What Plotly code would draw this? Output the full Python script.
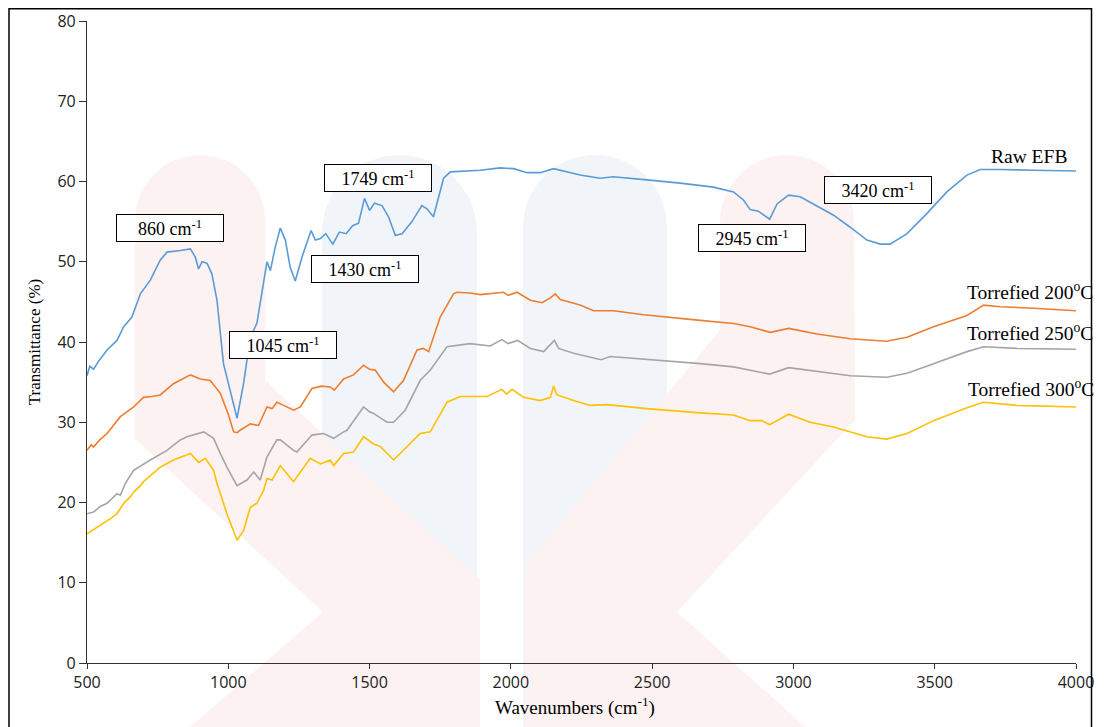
import numpy as np
import plotly.graph_objects as go

# ---------------- data ----------------
raw_wn = [500, 510, 523, 545, 571, 606, 630, 659, 689, 724, 759, 783, 830, 866, 883, 895, 907, 925, 942, 960,
          983, 1007, 1031, 1054, 1078, 1101, 1119, 1137, 1149, 1166, 1184, 1202, 1219, 1237, 1261, 1293, 1308,
          1326, 1345, 1370, 1393, 1417, 1440, 1461, 1482, 1500, 1517, 1544, 1567, 1591, 1615, 1650, 1685, 1703,
          1726, 1744, 1762, 1786, 1892, 1962, 2010, 2057, 2104, 2151, 2198, 2245, 2316, 2363, 2481, 2599, 2717,
          2788, 2823, 2847, 2876, 2916, 2942, 2983, 3024, 3083, 3142, 3201, 3260, 3307, 3342, 3402, 3472, 3543,
          3614, 3661, 3732, 3850, 4000]
raw_t = [35.8, 37.0, 36.6, 37.8, 39.0, 40.2, 41.9, 43.1, 46.0, 47.7, 50.2, 51.2, 51.4, 51.6, 50.6, 49.1, 50.0,
         49.8, 48.5, 45.2, 37.3, 34.0, 30.5, 34.8, 40.6, 42.3, 46.0, 50.0, 48.9, 51.8, 54.2, 52.7, 49.3, 47.6,
         50.6, 53.9, 52.7, 52.9, 53.5, 52.2, 53.7, 53.5, 54.5, 54.8, 57.9, 56.4, 57.3, 57.0, 55.6, 53.3, 53.5,
         55.0, 57.0, 56.6, 55.6, 58.0, 60.4, 61.2, 61.4, 61.7, 61.6, 61.1, 61.1, 61.6, 61.2, 60.8, 60.4, 60.6,
         60.2, 59.8, 59.3, 58.7, 57.7, 56.5, 56.3, 55.3, 57.2, 58.3, 58.1, 57.0, 55.8, 54.3, 52.7, 52.2, 52.2,
         53.5, 56.0, 58.7, 60.8, 61.5, 61.5, 61.4, 61.3]

t200_wn = [500, 515, 523, 545, 571, 618, 665, 700, 730, 759, 806, 866, 901, 936, 972, 1000, 1019, 1031, 1042,
           1078, 1107, 1137, 1155, 1172, 1196, 1231, 1255, 1296, 1330, 1361, 1375, 1408, 1443, 1479, 1500, 1520,
           1550, 1585, 1620, 1668, 1690, 1709, 1750, 1797, 1809, 1856, 1892, 1974, 1990, 2022, 2069, 2110, 2140,
           2157, 2175, 2245, 2293, 2363, 2470, 2599, 2670, 2788, 2847, 2918, 2983, 3083, 3201, 3330, 3402, 3496,
           3614, 3673, 3732, 3850, 4000]
t200_t = [26.5, 27.2, 26.9, 27.8, 28.6, 30.7, 31.9, 33.1, 33.2, 33.4, 34.8, 35.9, 35.4, 35.2, 33.6, 31.0, 28.8,
          28.7, 29.0, 29.8, 29.6, 31.9, 31.7, 32.5, 32.1, 31.5, 31.9, 34.2, 34.5, 34.4, 34.0, 35.4, 35.9, 37.1,
          36.6, 36.5, 35.0, 33.8, 35.2, 39.0, 39.2, 38.8, 43.1, 46.0, 46.2, 46.1, 45.9, 46.2, 45.8, 46.2, 45.2,
          44.9, 45.5, 46.0, 45.3, 44.6, 43.9, 43.9, 43.4, 42.9, 42.7, 42.3, 41.9, 41.2, 41.7, 41.0, 40.4, 40.1,
          40.6, 41.9, 43.3, 44.6, 44.4, 44.2, 43.9]

t250_wn = [500, 523, 547, 571, 606, 618, 636, 665, 724, 783, 830, 854, 913, 948, 972, 995, 1031, 1066, 1090, 1113,
           1137, 1172, 1184, 1231, 1243, 1296, 1337, 1361, 1373, 1408, 1420, 1479, 1500, 1514, 1562, 1585, 1626,
           1679, 1715, 1774, 1809, 1856, 1927, 1968, 1990, 2024, 2069, 2116, 2154, 2169, 2222, 2281, 2319, 2352,
           2470, 2599, 2670, 2788, 2847, 2916, 2983, 3083, 3201, 3330, 3402, 3496, 3614, 3673, 3791, 4000]
t250_t = [18.6, 18.8, 19.5, 19.9, 21.1, 20.9, 22.4, 24.0, 25.3, 26.5, 27.8, 28.2, 28.8, 28.0, 26.1, 24.4, 22.1,
          22.8, 23.8, 22.8, 25.7, 27.8, 27.8, 26.5, 26.3, 28.4, 28.6, 28.2, 28.0, 28.8, 29.0, 31.9, 31.3, 31.1,
          30.0, 30.0, 31.5, 35.2, 36.5, 39.4, 39.6, 39.8, 39.5, 40.3, 39.8, 40.2, 39.2, 38.8, 40.2, 39.2, 38.6,
          38.1, 37.8, 38.2, 37.9, 37.5, 37.3, 36.9, 36.5, 36.0, 36.8, 36.3, 35.8, 35.6, 36.1, 37.3, 38.8, 39.4,
          39.2, 39.1]

t300_wn = [500, 523, 547, 583, 606, 630, 653, 665, 689, 700, 759, 806, 866, 895, 919, 948, 960, 995, 1031, 1054,
           1078, 1101, 1125, 1137, 1155, 1184, 1231, 1290, 1326, 1361, 1373, 1408, 1443, 1479, 1514, 1538, 1585,
           1632, 1679, 1715, 1774, 1821, 1915, 1968, 1985, 2004, 2045, 2104, 2140, 2151, 2163, 2222, 2281, 2340,
           2481, 2658, 2788, 2847, 2888, 2916, 2983, 3059, 3142, 3260, 3330, 3402, 3496, 3614, 3673, 3791, 4000]
t300_t = [16.1, 16.6, 17.2, 18.0, 18.6, 19.9, 20.7, 21.3, 22.1, 22.6, 24.4, 25.3, 26.1, 25.0, 25.5, 24.0, 22.4,
          18.6, 15.3, 16.5, 19.4, 19.9, 21.5, 23.0, 22.8, 24.6, 22.6, 25.5, 24.8, 25.3, 24.6, 26.1, 26.3, 28.2,
          27.3, 27.0, 25.3, 26.9, 28.6, 28.8, 32.5, 33.2, 33.2, 34.1, 33.5, 34.1, 33.1, 32.7, 33.1, 34.5, 33.4,
          32.7, 32.1, 32.2, 31.7, 31.2, 30.9, 30.2, 30.2, 29.7, 31.0, 30.0, 29.4, 28.2, 27.9, 28.6, 30.2, 31.8,
          32.5, 32.1, 31.9]

series_names = ["Raw EFB", "Torrefied 200<sup>o</sup>C", "Torrefied 250<sup>o</sup>C", "Torrefied 300<sup>o</sup>C"]
series_colors = ["#5B9BD5", "#ED7D31", "#A5A5A5", "#FFC000"]
series_label_pos = [(3834, 63.1), (3838, 46.3), (3838, 41.3), (3842, 34.3)]

peak_labels = ["860 cm<sup>-1</sup>", "1749 cm<sup>-1</sup>", "1430 cm<sup>-1</sup>", "1045 cm<sup>-1</sup>",
               "2945 cm<sup>-1</sup>", "3420 cm<sup>-1</sup>"]
peak_label_pos = [(795, 54.2), (1531, 60.4), (1483, 49.1), (1195, 39.6), (2853, 53.0), (3300, 58.9)]

x_ticks = [500, 1000, 1500, 2000, 2500, 3000, 3500, 4000]
y_ticks = [0, 10, 20, 30, 40, 50, 60, 70, 80]

# ---------------- figure ----------------
W, H = 1107, 727
OFF = 8  # page body margin
ML, MR, MT, MB = 79, 39, 13, 72
PW, PH = W - ML - MR, H - MT - MB

def pp(x, y):
    """screen pixel -> paper coords (decoration only)"""
    return (x - OFF - ML) / PW, (H - MB - (y - OFF)) / PH

def path_from_px(points):
    s = ""
    for i, (x, y) in enumerate(points):
        px, py = pp(x, y)
        s += ("M" if i == 0 else "L") + f"{px:.5f},{py:.5f} "
    return s + "Z"

def arc_pts(cx, cy, r, start, end, n=20):
    a = np.linspace(start, end, n)
    return [(cx + r * np.cos(t), cy - r * np.sin(t)) for t in a]

fig = go.Figure()
datasets = [(raw_wn, raw_t), (t200_wn, t200_t), (t250_wn, t250_t), (t300_wn, t300_t)]
for (xs, ys), name, col in zip(datasets, series_names, series_colors):
    fig.add_trace(go.Scatter(x=xs, y=ys, mode="lines", name=name,
                             line=dict(color=col, width=1.6), showlegend=False))

shapes = []
# faint watermark
blue = "#f1f5f9"
pink = "#fdf2f2"
for (x0, x1) in [(322, 477), (523, 667)]:
    r = (x1 - x0) / 2
    pts = [(x0, 740)] + arc_pts((x0 + x1) / 2, 155 + r, r, np.pi, 0) + [(x1, 740)]
    shapes.append(dict(type="path", xref="paper", yref="paper", path=path_from_px(pts),
                       fillcolor=blue, line=dict(width=0), layer="below"))
r = 65
ptsL = [(135, 439)] + arc_pts(200, 155 + r, r, np.pi, 0) + [(265, 380), (480, 580), (480, 740), (175, 740),
                                                              (323, 612)]
shapes.append(dict(type="path", xref="paper", yref="paper", path=path_from_px(ptsL),
                   fillcolor=pink, line=dict(width=0), layer="below"))
r = 67
ptsR = [(720, 330)] + arc_pts(787, 155 + r, r, np.pi, 0) + [(855, 420), (677, 612), (820, 740), (525, 740),
                                                              (525, 565)]
shapes.append(dict(type="path", xref="paper", yref="paper", path=path_from_px(ptsR),
                   fillcolor=pink, line=dict(width=0), layer="below"))
# outer frame (top edge kept just inside the figure)
fx0, fy0 = pp(9, OFF + 0.8)
fx1, fy1 = pp(1091.5, 760)
shapes.append(dict(type="rect", xref="paper", yref="paper", x0=fx0, y0=fy1, x1=fx1, y1=fy0,
                   line=dict(color="black", width=1.5), layer="above"))

annotations = []
for txt, (x, y) in zip(peak_labels, peak_label_pos):
    annotations.append(dict(x=x, y=y, xref="x", yref="y", text=txt, showarrow=False,
                            font=dict(family="Liberation Serif", size=18, color="black"),
                            bordercolor="black", borderwidth=1, bgcolor="white",
                            width=104, height=24, borderpad=1))
for txt, (x, y), in zip(series_names, series_label_pos):
    annotations.append(dict(x=x, y=y, xref="x", yref="y", text=txt, showarrow=False,
                            font=dict(family="Liberation Serif", size=19.5, color="black")))
# x-axis title
tx, ty = pp(575, 706)
annotations.append(dict(x=tx, y=ty, xref="paper", yref="paper", xanchor="center", yanchor="middle",
                        text="Wavenumbers (cm<sup>-1</sup>)", showarrow=False,
                        font=dict(family="Liberation Serif", size=19, color="black")))

fig.update_layout(
    width=W, height=H,
    margin=dict(l=ML, r=MR, t=MT, b=MB, pad=0, autoexpand=False),
    paper_bgcolor="white", plot_bgcolor="rgba(0,0,0,0)",
    shapes=shapes, annotations=annotations,
    xaxis=dict(range=[500, 4000], tickvals=x_ticks, ticks="outside", ticklen=5, tickcolor="#333",
               showgrid=False, zeroline=False, showline=True, linecolor="#333", linewidth=1.2,
               automargin=False,
               tickfont=dict(family="Open Sans", size=16, color="#222")),
    yaxis=dict(range=[0, 80], tickvals=y_ticks, ticks="outside", ticklen=7, tickcolor="#333",
               showgrid=False, zeroline=False, showline=True, linecolor="#333", linewidth=1.2,
               automargin=False,
               tickfont=dict(family="Open Sans", size=16, color="#222"),
               title=dict(text="Transmittance (%)", standoff=12,
                          font=dict(family="Liberation Serif", size=17, color="black"))),
)

fig.write_html("out.html")
